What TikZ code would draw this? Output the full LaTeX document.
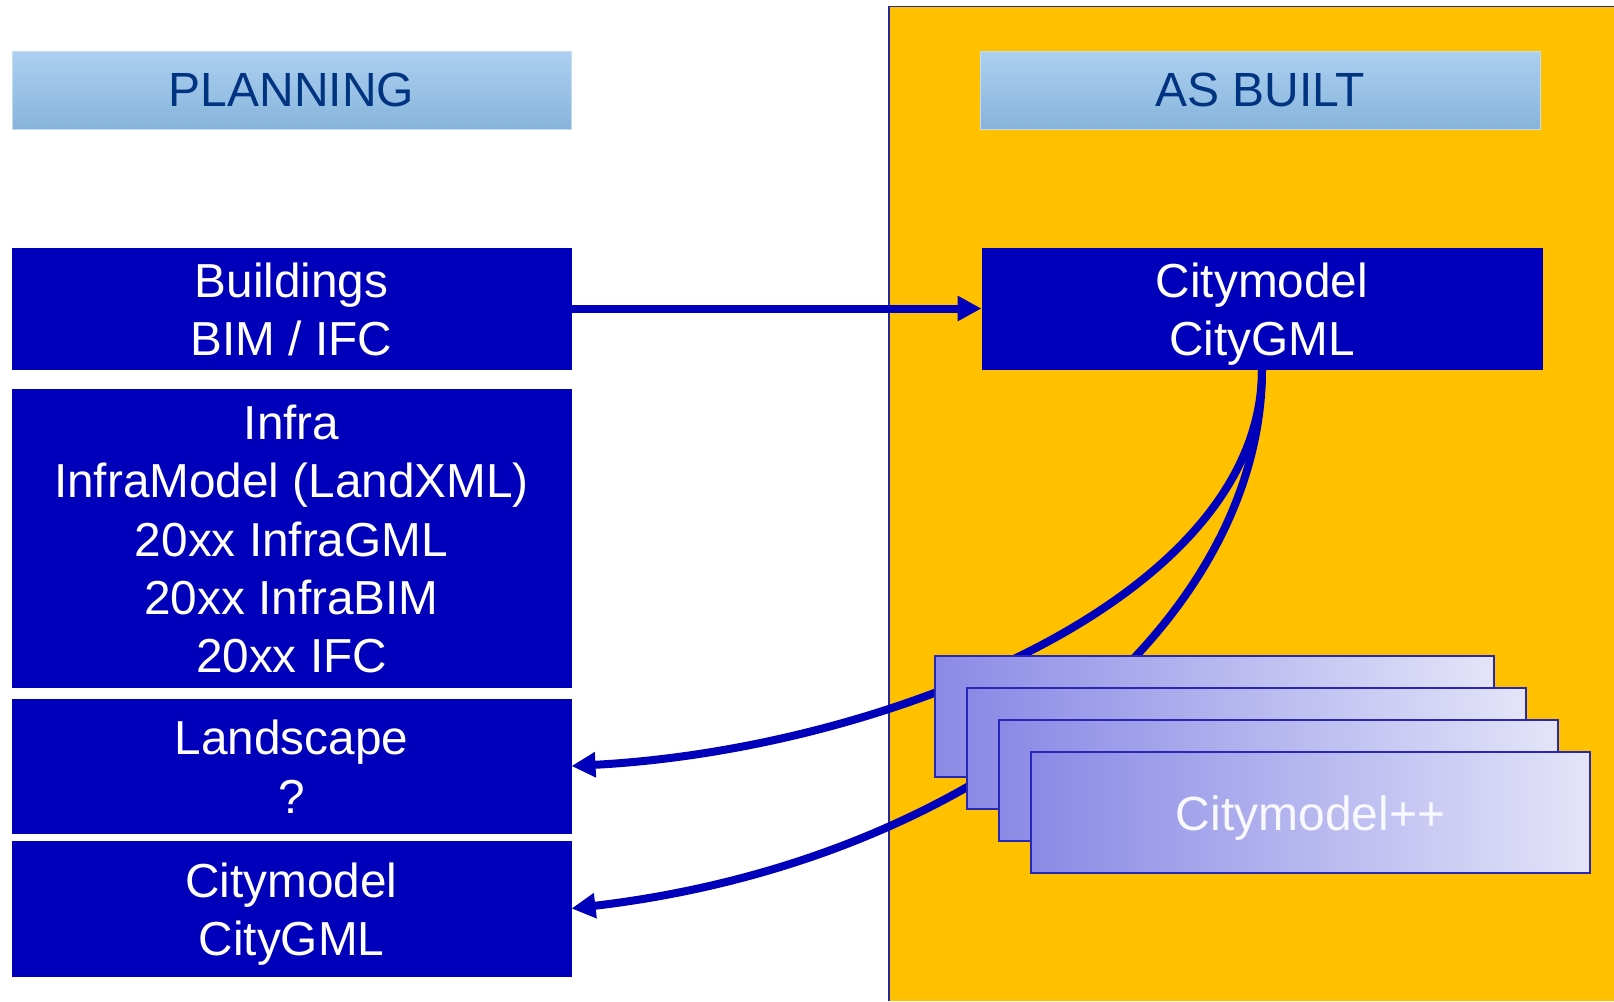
\documentclass[tikz,border=0pt]{standalone}
\usepackage{fontspec}
\setmainfont{Liberation Sans}
\usetikzlibrary{arrows.meta}

\definecolor{dkblue}{RGB}{0,0,187}
\definecolor{panelorange}{RGB}{255,192,0}
\definecolor{paneledge}{RGB}{40,40,150}
\definecolor{hdrtop}{RGB}{172,208,240}
\definecolor{hdrbot}{RGB}{135,180,220}
\definecolor{hdrtext}{RGB}{0,51,128}
\definecolor{stackleft}{RGB}{138,138,230}
\definecolor{stackright}{RGB}{228,228,249}
\definecolor{stackedge}{RGB}{40,40,180}

% even line box: same room above and below every text block
\newcommand{\lp}{\vrule width 0pt height 35pt depth 8pt\relax}

\begin{document}

\tikzset{every picture/.style={line width=0.75pt}}

\begin{tikzpicture}[x=0.75pt,y=0.75pt,yscale=-1,xscale=1,
  hdr/.style={rectangle, top color=hdrtop, bottom color=hdrbot, draw={rgb,255:red,196;green,220;blue,242}, line width=0.75pt,
    minimum width=419.25pt, minimum height=58.5pt, inner sep=0pt, text=hdrtext, font=\fontsize{36}{43.7}\selectfont},
  lbox/.style={rectangle, fill=dkblue, draw=dkblue, minimum width=419.25pt, inner sep=0pt, align=center,
    text=white, font=\fontsize{35.8}{43.7}\selectfont},
  sbox/.style={rectangle, left color=stackleft, right color=stackright, draw=stackedge, line width=1pt,
    minimum width=419.25pt, minimum height=90.75pt, inner sep=0pt, text={rgb,255:red,248;green,248;blue,255},
    font=\fontsize{36}{43.7}\selectfont},
  conn/.style={draw=dkblue, line width=6pt, -{Triangle[length=18pt,width=18pt]}}]
\useasboundingbox (0,0) rectangle (1614,1001);

%Orange panel
\fill [panelorange] (889,6.5) rectangle (1614,1001);
\draw [paneledge, line width=1.2pt] (889,1001) -- (889,6.5) -- (1614,6.5);

%Left column
\node [hdr] (planning) at (291.5,90) {PLANNING};
\node [lbox, minimum height=90.75pt] (build) at (291.5,308.5) {\lp Buildings\\BIM / IFC\lp};
\node [lbox, minimum height=223.5pt] (infra) at (291.5,538) {\lp Infra\\InfraModel (LandXML)\\20xx InfraGML\\20xx InfraBIM\\20xx IFC\lp};
\node [lbox, minimum height=100.5pt] (land) at (291.5,766) {\lp Landscape\\?\lp};
\node [lbox, minimum height=101.25pt] (cityleft) at (291.5,908.5) {\lp Citymodel\\CityGML\lp};

%Right column
\node [hdr, minimum width=420pt] (asbuilt) at (1260,90) {AS BUILT};
\node [lbox, minimum width=420pt, minimum height=90.75pt] (cmright) at (1262,308.5) {\lp Citymodel\\CityGML\lp};

%Connectors
\draw [conn] (build.east) -- (cmright.west);
\draw [conn] (cmright.south) .. controls +(0,231) and +(309,-16) .. (land.east);
\draw [conn] (cmright.south) .. controls +(0,251) and +(409,-48) .. (cityleft.east);

%Stack of citymodels
\node [sbox] (stack1) at (1214.5,716.5) {};
\node [sbox] (stack2) at (1246.5,748.5) {};
\node [sbox] (stack3) at (1278.5,780.5) {};
\node [sbox] (stack4) at (1310.5,812.5) {\lp Citymodel++};

\end{tikzpicture}
\end{document}
